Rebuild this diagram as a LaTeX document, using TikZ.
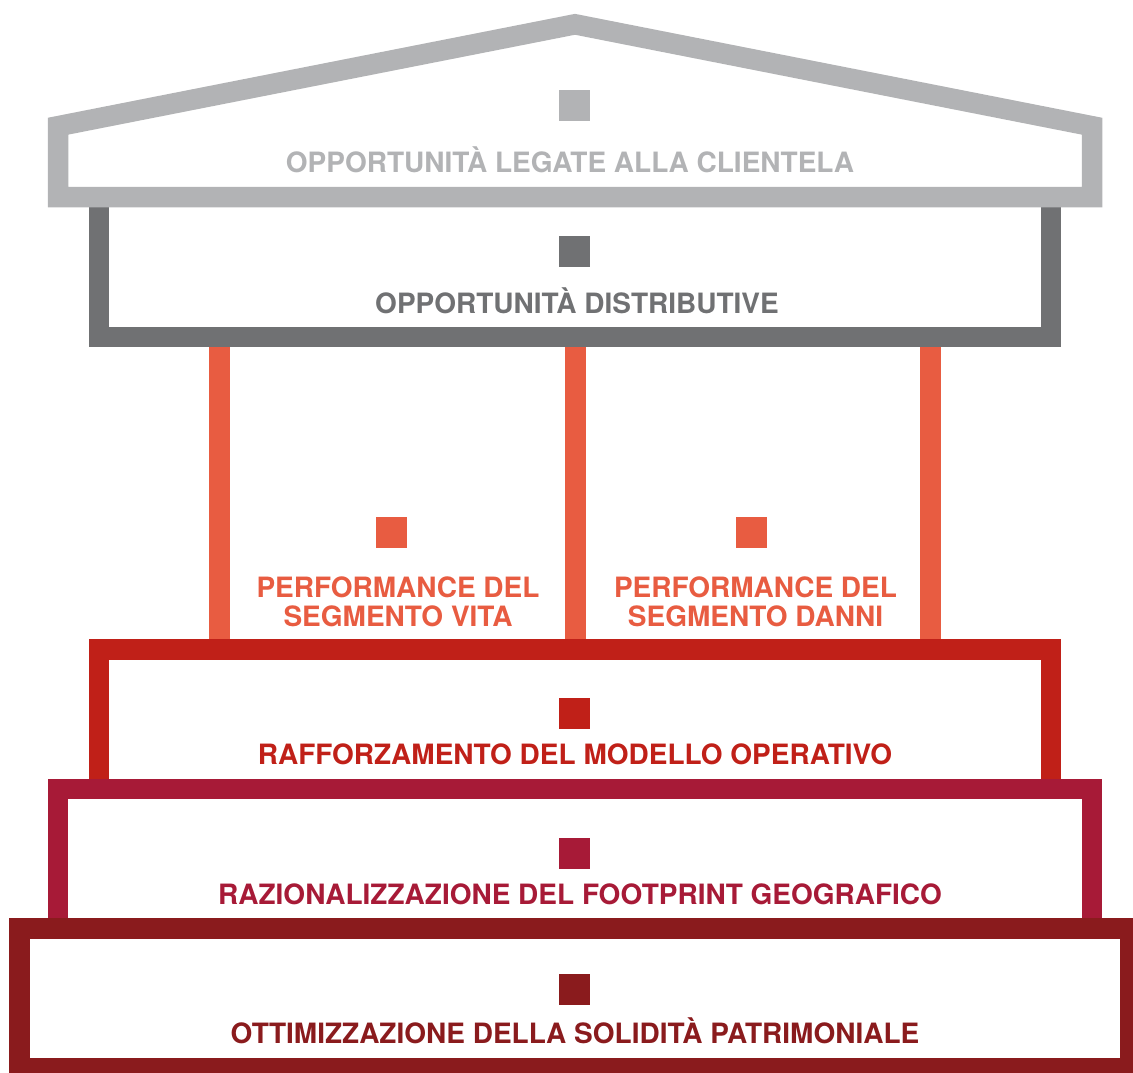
\documentclass[tikz,border=0pt]{standalone}
\usepackage{fontspec}
\setmainfont{TeX Gyre Heros}
\definecolor{roofgrey}{HTML}{B2B3B5}
\definecolor{distgrey}{HTML}{707173}
\definecolor{pillarorange}{HTML}{E85C41}
\definecolor{opred}{HTML}{C02018}
\definecolor{geocrimson}{HTML}{A71A37}
\definecolor{patmaroon}{HTML}{8A1B1D}
\begin{document}
\begin{tikzpicture}[x=1pt,y=-1pt,
  band/.style={line width=20.5pt, line join=miter, line cap=butt},
  pillar/.style={line width=21pt, draw=pillarorange, line cap=butt},
  chip/.style={minimum size=31pt, inner sep=0pt, outer sep=0pt},
  lbl/.style={font=\fontsize{28}{29}\selectfont\bfseries, inner sep=0pt, anchor=base}
]
\useasboundingbox (0,0) rectangle (1133,1072);
\clip (0,0) rectangle (1133,1072);

% pillars between the distribution box and the operating model
\draw[pillar] (219.5,337) -- (219.5,650);
\draw[pillar] (575.5,337) -- (575.5,650);
\draw[pillar] (930.5,337) -- (930.5,650);

% distribution box (its top edge sits under the roof)
\draw[band, draw=distgrey] (99,197) -- (99,337) -- (1051,337) -- (1051,197);

% roof
\draw[band, draw=roofgrey, fill=white]
  (58,197) -- (58,126.2) -- (575,24.3) -- (1092,126.2) -- (1092,197) -- cycle;

% stacked foundation boxes, each one drawn over the one above
\draw[band, draw=opred] (99,789) -- (99,649.5) -- (1051,649.5) -- (1051,789);
\draw[band, draw=geocrimson] (58,928.5) -- (58,789) -- (1092,789) -- (1092,928.5);
\draw[band, draw=patmaroon] (19.5,928.5) rectangle (1130.5,1068.5);

% squares
\node[chip, fill=roofgrey] (roofchip) at (574.5,105.5) {};
\node[chip, fill=distgrey] (distchip) at (574.5,251.5) {};
\node[chip, fill=pillarorange] (vitachip) at (391.5,532.5) {};
\node[chip, fill=pillarorange] (dannichip) at (751.5,532.5) {};
\node[chip, fill=opred] (opchip) at (574.5,713.5) {};
\node[chip, fill=geocrimson] (geochip) at (574.5,853.5) {};
\node[chip, fill=patmaroon] (patchip) at (574.5,989.5) {};

% labels
\node[lbl, text=roofgrey] (rooftext) at (570,172) {OPPORTUNITÀ LEGATE ALLA CLIENTELA};
\node[lbl, text=distgrey] (disttext) at (577,313.5) {OPPORTUNITÀ DISTRIBUTIVE};
\node[lbl, text=pillarorange] (vitatexta) at (398,597) {PERFORMANCE DEL};
\node[lbl, text=pillarorange] (vitatextb) at (398,626) {SEGMENTO VITA};
\node[lbl, text=pillarorange] (dannitexta) at (755.5,597) {PERFORMANCE DEL};
\node[lbl, text=pillarorange] (dannitextb) at (755.5,626) {SEGMENTO DANNI};
\node[lbl, text=opred] (optext) at (575,764.5) {RAFFORZAMENTO DEL MODELLO OPERATIVO};
\node[lbl, text=geocrimson] (geotext) at (580,904) {RAZIONALIZZAZIONE DEL FOOTPRINT GEOGRAFICO};
\node[lbl, text=patmaroon] (pattext) at (575,1043.5) {OTTIMIZZAZIONE DELLA SOLIDITÀ PATRIMONIALE};
\end{tikzpicture}
\end{document}
